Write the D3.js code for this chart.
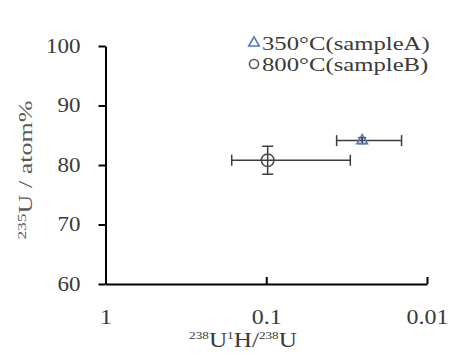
<!DOCTYPE html>
<html>
<head>
<meta charset="utf-8">
<script src="https://cdn.jsdelivr.net/npm/d3@7"></script>
<style>
  html, body { margin: 0; padding: 0; background: #ffffff; }
  svg { display: block; }
  text { font-family: "Liberation Serif", "Times New Roman", serif; }
</style>
</head>
<body>
<svg id="chart" width="451" height="360"></svg>
<script>
// Samples and their measured values
const samples = ["350°C(sampleA)", "800°C(sampleB)"];
const hydrideRatio = [0.0253, 0.098];        // 238U1H/238U
const hydrideLow = [0.0144, 0.030];          // lower end of x error bar
const hydrideHigh = [0.0365, 0.164];         // upper end of x error bar
const enrichment = [84.1, 80.8];             // 235U atom%
const enrichmentErr = [0.5, 2.35];           // ± error on 235U atom%

const yTicks = [60, 70, 80, 90, 100];
const xTicks = [1, 0.1, 0.01];
const xTickLabels = ["1", "0.1", "0.01"];

const markerShapes = ["triangle", "circle"];
const markerColors = ["#5577bb", "#4a4a4a"];

const svg = d3.select("#chart");

const x = d3.scaleLog().domain([1, 0.01]).range([105.5, 427]);
const y = d3.scaleLinear().domain([60, 100]).range([284, 46]);

// stretch text horizontally to the wider face used in the chart
function widen(sel, k) {
  sel.each(function () {
    const w = this.getComputedTextLength();
    d3.select(this).attr("textLength", w * k).attr("lengthAdjust", "spacingAndGlyphs");
  });
}

// Y axis
const yAxis = svg.append("g")
  .attr("transform", "translate(" + x(1) + ",0)")
  .call(d3.axisLeft(y).tickValues(yTicks).tickSize(7).tickSizeOuter(0).tickPadding(18));
yAxis.select(".domain").attr("stroke", "#000").attr("stroke-width", 2);
yAxis.selectAll(".tick line").attr("stroke", "#000").attr("stroke-width", 2);
yAxis.selectAll(".tick text")
  .attr("fill", "#3a3a3a")
  .style("font-size", "20px")
  .style("font-family", "'Liberation Serif', serif")
  .call(widen, 1.15);

// X axis (log scale, decreasing to the right)
const xAxis = svg.append("g")
  .attr("transform", "translate(0," + y(60) + ")")
  .call(d3.axisBottom(x).tickValues(xTicks)
    .tickFormat((d, i) => xTickLabels[i])
    .tickSizeInner(-7).tickSizeOuter(0).tickPadding(26));
xAxis.select(".domain").attr("stroke", "#000").attr("stroke-width", 2);
xAxis.selectAll(".tick line").attr("stroke", "#000").attr("stroke-width", 2);
xAxis.selectAll(".tick text")
  .attr("fill", "#3a3a3a")
  .style("font-size", "20px")
  .style("font-family", "'Liberation Serif', serif")
  .call(widen, 1.2);

// Axis titles
const yTitle = svg.append("text")
  .attr("transform", "translate(32,170) rotate(-90)")
  .attr("text-anchor", "middle")
  .attr("fill", "#5a5a5a")
  .style("font-size", "18px");
yTitle.append("tspan").style("font-size", "12px").attr("dy", -6).text("235");
yTitle.append("tspan").attr("dy", 6).text("U / atom%");
yTitle.call(widen, 1.45);

const xTitle = svg.append("text")
  .attr("x", 243).attr("y", 347)
  .attr("text-anchor", "middle")
  .attr("fill", "#3a3a3a")
  .style("font-size", "21px");
xTitle.append("tspan").style("font-size", "11px").attr("dy", -8).text("238");
xTitle.append("tspan").attr("dy", 8).text("U");
xTitle.append("tspan").style("font-size", "11px").attr("dy", -8).text("1");
xTitle.append("tspan").attr("dy", 8).text("H/");
xTitle.append("tspan").style("font-size", "11px").attr("dy", -8).text("238");
xTitle.append("tspan").attr("dy", 8).text("U");
xTitle.call(widen, 1.2);

// Error bars
const cap = 5.5;
const errColor = "#3c3c3c";
const points = samples.map((s, i) => ({
  name: s, xv: hydrideRatio[i], xl: hydrideLow[i], xh: hydrideHigh[i],
  yv: enrichment[i], ye: enrichmentErr[i], shape: markerShapes[i], color: markerColors[i]
}));

const eb = svg.append("g").attr("stroke", errColor).attr("stroke-width", 1.5).attr("fill", "none");
points.forEach(p => {
  const g = eb.append("g");
  // horizontal
  g.append("line").attr("x1", x(p.xh)).attr("x2", x(p.xl)).attr("y1", y(p.yv)).attr("y2", y(p.yv));
  g.append("line").attr("x1", x(p.xh)).attr("x2", x(p.xh)).attr("y1", y(p.yv) - cap).attr("y2", y(p.yv) + cap);
  g.append("line").attr("x1", x(p.xl)).attr("x2", x(p.xl)).attr("y1", y(p.yv) - cap).attr("y2", y(p.yv) + cap);
  // vertical
  const vcap = p.shape === "triangle" ? 4 : cap;
  g.append("line").attr("x1", x(p.xv)).attr("x2", x(p.xv)).attr("y1", y(p.yv + p.ye)).attr("y2", y(p.yv - p.ye));
  g.append("line").attr("x1", x(p.xv) - vcap).attr("x2", x(p.xv) + vcap).attr("y1", y(p.yv + p.ye)).attr("y2", y(p.yv + p.ye));
  g.append("line").attr("x1", x(p.xv) - vcap).attr("x2", x(p.xv) + vcap).attr("y1", y(p.yv - p.ye)).attr("y2", y(p.yv - p.ye));
});

// Markers (open)
function drawMarker(g, shape, color, cx, cy, scale) {
  if (shape === "circle") {
    g.append("circle").attr("cx", cx).attr("cy", cy).attr("r", 6.3 * scale)
      .attr("fill", "none").attr("stroke", color).attr("stroke-width", 1.6);
  } else {
    g.append("path")
      .attr("d", d3.symbol().type(d3.symbolTriangle).size(48 * scale * scale)())
      .attr("transform", "translate(" + cx + "," + cy + ")")
      .attr("fill", "none").attr("stroke", color).attr("stroke-width", 1.6);
  }
}
const mk = svg.append("g");
points.forEach(p => drawMarker(mk, p.shape, p.color, x(p.xv), y(p.yv), 1));

// Legend
const legend = svg.append("g");
points.forEach((p, i) => {
  const ly = 43 + i * 21;
  drawMarker(legend, p.shape, p.shape === "circle" ? "#555" : p.color, 254, ly, p.shape === "circle" ? 0.72 : 1);
  legend.append("text")
    .attr("x", 262).attr("y", ly + 6.5)
    .attr("fill", "#3a3a3a")
    .style("font-size", "19px")
    .text(p.name)
    .call(widen, 1.3);
});
</script>
</body>
</html>
